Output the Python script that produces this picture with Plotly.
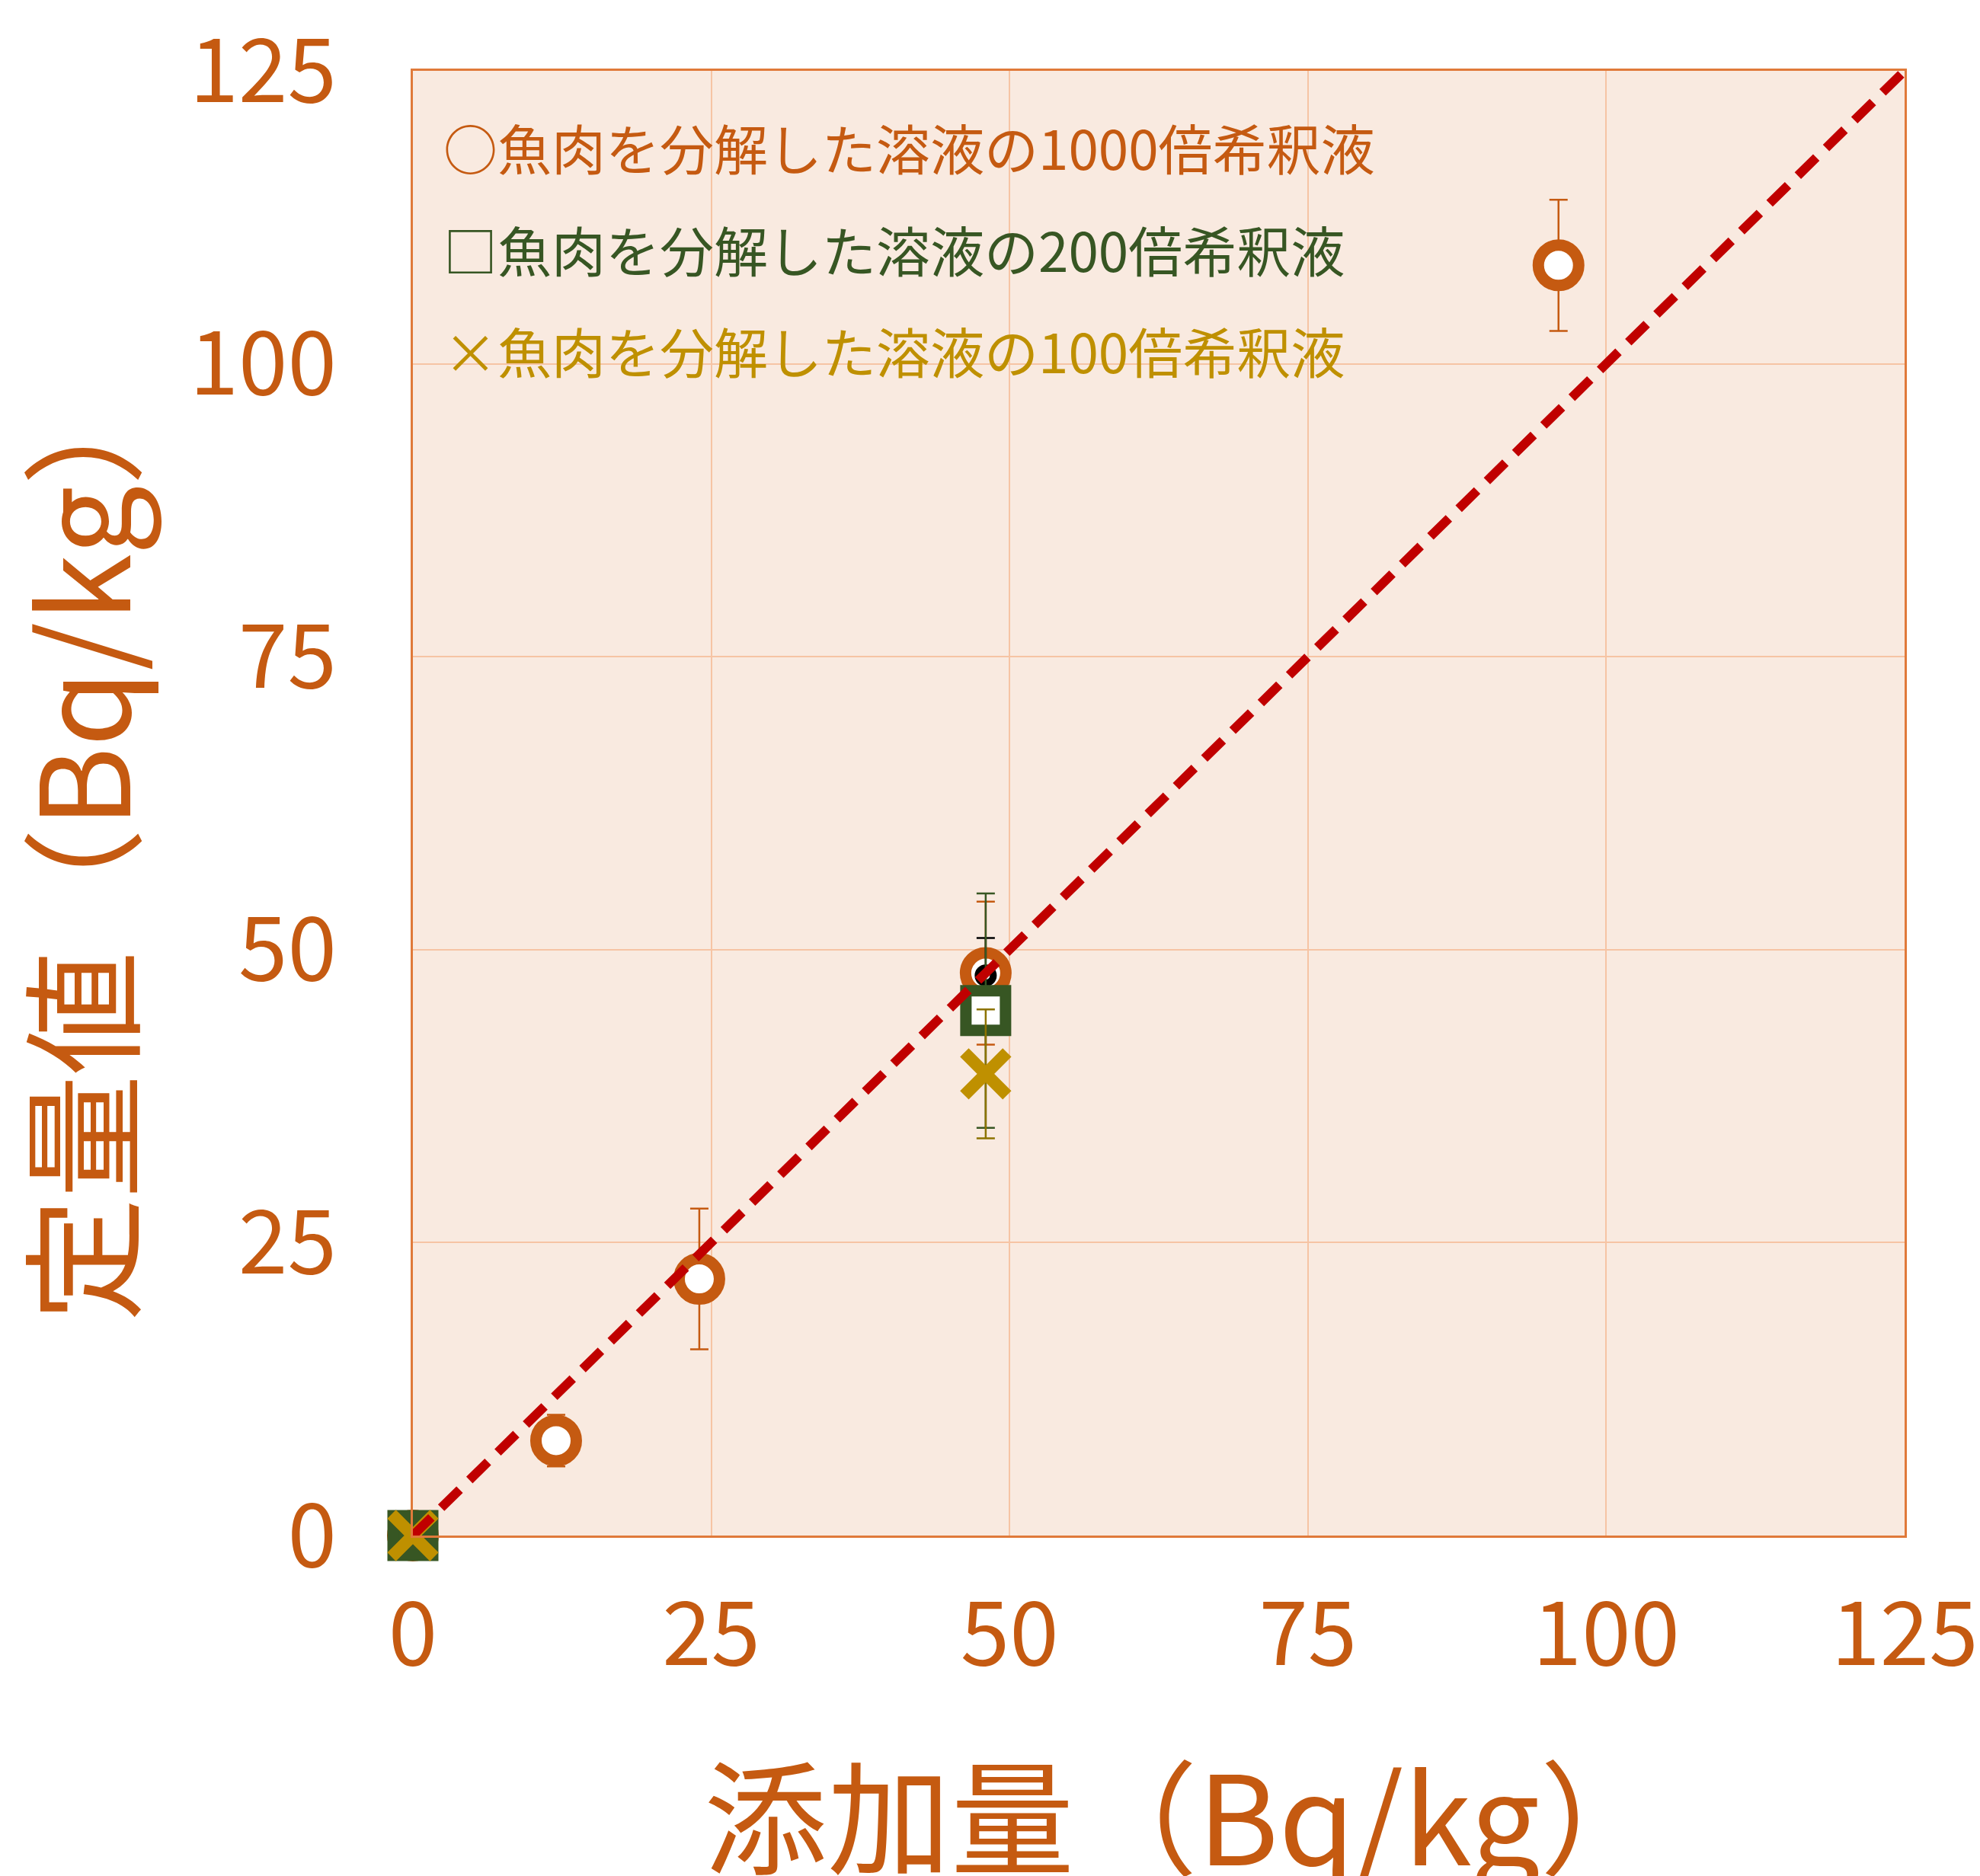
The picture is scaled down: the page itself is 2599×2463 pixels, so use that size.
import plotly.graph_objects as go

# Spiked amount (Bq/kg) vs. measured value (Bq/kg)
added_1000 = [0, 12, 24, 48, 96]
measured_1000 = [0, 8.1, 21.9, 48.0, 108.4]
err_1000 = [0, 2.2, 6.0, 6.1, 5.6]

added_mean = [48]
measured_mean = [47.8]
err_mean = [3.2]

added_200 = [0, 48]
measured_200 = [0, 44.8]
err_200 = [0, 10.0]

added_100 = [0, 48]
measured_100 = [0, 39.4]
err_100 = [0, 5.5]

identity_x = [0, 125]
identity_y = [0, 125]

tick_vals = [0, 25, 50, 75, 100, 125]
tick_text = ["0", "25", "50", "75", "100", "125"]

legend_lines = [
    "○魚肉を分解した溶液の1000倍希釈液",
    "□魚肉を分解した溶液の200倍希釈液",
    "×魚肉を分解した溶液の100倍希釈液",
]

ORANGE = "#C55A11"
GREEN = "#375623"
GOLD = "#BF9000"
RED = "#C00000"
CJK = "Noto Sans CJK JP"
NUM_FONT = "Noto Sans CJK JP"

W, H = 2599, 2463
L, R, T, B = 542, 99, 93, 447

fig = go.Figure()

fig.add_trace(go.Scatter(
    x=added_1000, y=measured_1000, mode="markers", cliponaxis=False,
    marker=dict(symbol="circle", size=53, color="white",
                line=dict(color=ORANGE, width=15)),
    error_y=dict(type="data", array=err_1000, color=ORANGE, thickness=2.5, width=12),
    showlegend=False,
))

fig.add_trace(go.Scatter(
    x=added_mean, y=measured_mean, mode="markers", cliponaxis=False,
    marker=dict(symbol="circle-open", size=20, color="black",
                line=dict(color="black", width=9)),
    error_y=dict(type="data", array=err_mean, color="black", thickness=2.5, width=12),
    showlegend=False,
))

fig.add_trace(go.Scatter(
    x=added_200, y=measured_200, mode="markers", cliponaxis=False,
    marker=dict(symbol="square", size=52, color=[GREEN, "white"],
                line=dict(color=GREEN, width=15)),
    error_y=dict(type="data", array=err_200, color=GREEN, thickness=2.5, width=12),
    showlegend=False,
))

fig.add_trace(go.Scatter(
    x=added_100, y=measured_100, mode="markers", cliponaxis=False,
    marker=dict(symbol="x-thin-open", size=56, color=GOLD,
                line=dict(color=GOLD, width=16)),
    error_y=dict(type="data", array=err_100, color="#8C7300", thickness=2.5, width=12),
    showlegend=False,
))

fig.add_trace(go.Scatter(
    x=identity_x, y=identity_y, mode="lines", cliponaxis=False,
    line=dict(color=RED, width=12, dash="34px,18px"),
    showlegend=False, hoverinfo="skip",
))

axis_common = dict(
    range=[0, 125], tickvals=tick_vals, ticktext=tick_text,
    showgrid=True, gridcolor="#F6C4A4", gridwidth=2,
    zeroline=False, showline=True, linecolor="#E07A3A", linewidth=3,
    mirror=True, ticks="outside", ticklen=0,
    ticklabeloverflow="allow", automargin=False,
    tickfont=dict(family=NUM_FONT, size=116, color=ORANGE),
)

fig.update_xaxes(**axis_common, ticklabelstandoff=28)
fig.update_yaxes(**axis_common, ticklabelstandoff=74)

def px_x(p):
    return (p - L) / (W - L - R)

def px_y(p):
    return (H - B - p) / (H - T - B)

annotations = []
for text, color, yc in zip(legend_lines, [ORANGE, GREEN, GOLD], [192, 326, 459]):
    annotations.append(dict(
        text=text, xref="paper", yref="paper", x=px_x(580), y=px_y(yc),
        xanchor="left", yanchor="middle", showarrow=False,
        font=dict(family=CJK, size=71, color=color),
    ))

annotations.append(dict(
    text="添加量（Bq/kg）", xref="paper", yref="paper",
    x=px_x(1553), y=px_y(2378), xanchor="center", yanchor="middle",
    showarrow=False, font=dict(family=CJK, size=162, color=ORANGE),
))
annotations.append(dict(
    text="定量値（Bq/kg）", xref="paper", yref="paper", textangle=-90,
    x=px_x(100), y=px_y(1106), xanchor="center", yanchor="middle",
    showarrow=False, font=dict(family=CJK, size=162, color=ORANGE),
))

fig.update_layout(
    width=W, height=H,
    margin=dict(l=L, r=R, t=T, b=B, pad=0, autoexpand=False),
    paper_bgcolor="white", plot_bgcolor="#F9EAE0",
    annotations=annotations,
)

fig.write_html("out.html")
